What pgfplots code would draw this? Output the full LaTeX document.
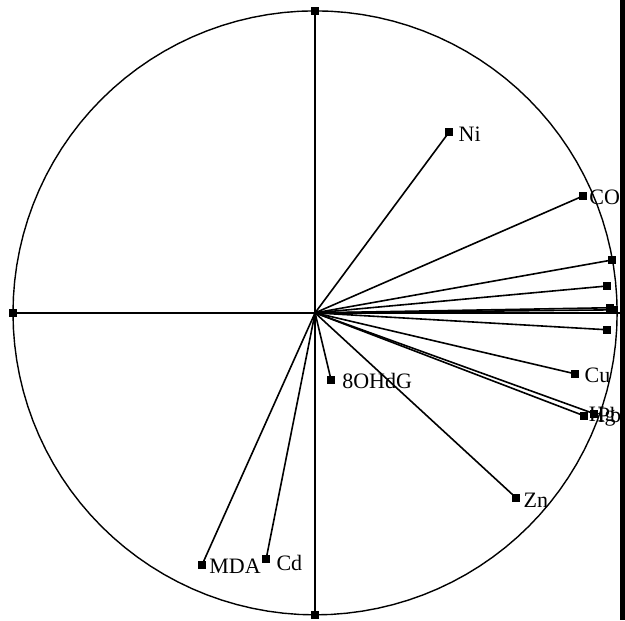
\documentclass[border=0pt]{standalone}
\usepackage{fontspec}
\setmainfont{Liberation Serif}
\usepackage{pgfplots}
\pgfplotsset{compat=1.18}
\begin{document}
\begin{tikzpicture}
\begin{axis}[
  width=312.5pt, height=310pt, scale only axis,
  xmin=-1.043, xmax=1.026, ymin=-1.017, ymax=1.036,
  axis lines=none, clip=false,
  every axis plot/.append style={black, line width=0.8pt},
]
\path (axis cs:-1.043,-1.017) rectangle (axis cs:1.026,1.036);
\addplot[line width=0.7pt, domain=0:360, samples=121, no marks] ({cos(x)},{sin(x)});
\addplot[no marks] coordinates {(-1,0) (1.02,0)};
\addplot[no marks] coordinates {(0,-1) (0,1)};
\addplot[only marks, mark=square*, mark size=1.6pt] coordinates {(-1,0) (0,1) (0,-1)};
\addplot[no marks] coordinates {(0,0) (0.444,0.599)};
\addplot[no marks] coordinates {(0,0) (0.887,0.387)};
\addplot[no marks] coordinates {(0,0) (0.983,0.175)};
\addplot[no marks] coordinates {(0,0) (0.967,0.089)};
\addplot[no marks] coordinates {(0,0) (0.977,0.017)};
\addplot[no marks] coordinates {(0,0) (0.990,0.010)};
\addplot[no marks] coordinates {(0,0) (0.967,-0.056)};
\addplot[no marks] coordinates {(0,0) (0.861,-0.202)};
\addplot[no marks] coordinates {(0,0) (0.891,-0.341)};
\addplot[no marks] coordinates {(0,0) (0.924,-0.334)};
\addplot[no marks] coordinates {(0,0) (0.666,-0.613)};
\addplot[no marks] coordinates {(0,0) (0.053,-0.222)};
\addplot[no marks] coordinates {(0,0) (-0.374,-0.834)};
\addplot[no marks] coordinates {(0,0) (-0.162,-0.815)};
\addplot[only marks, mark=square*, mark size=1.6pt] coordinates {
 (0.444,0.599) (0.887,0.387) (0.983,0.175) (0.967,0.089) (0.977,0.017) (0.990,0.010)
 (0.967,-0.056) (0.861,-0.202) (0.891,-0.341) (0.924,-0.334) (0.666,-0.613)
 (0.053,-0.222) (-0.374,-0.834) (-0.162,-0.815)};
\node[anchor=west, inner sep=0pt, font=\fontsize{11}{13}\selectfont] at (axis cs:0.474,0.593) {Ni};
\node[anchor=west, inner sep=0pt, font=\fontsize{11}{13}\selectfont] at (axis cs:0.907,0.384) {CO};
\node[anchor=west, inner sep=0pt, font=\fontsize{11}{13}\selectfont] at (axis cs:0.891,-0.208) {Cu};
\node[anchor=west, inner sep=0pt, font=\fontsize{11}{13}\selectfont] at (axis cs:0.689,-0.619) {Zn};
\node[anchor=west, inner sep=0pt, font=\fontsize{11}{13}\selectfont] at (axis cs:0.089,-0.225) {8OHdG};
\node[anchor=west, inner sep=0pt, font=\fontsize{11}{13}\selectfont] at (axis cs:-0.351,-0.840) {MDA};
\node[anchor=west, inner sep=0pt, font=\fontsize{11}{13}\selectfont] at (axis cs:-0.129,-0.828) {Cd};
\node[anchor=west, inner sep=0pt, font=\fontsize{11}{13}\selectfont] at (axis cs:0.905,-0.345) {Hg};
\node[anchor=west, inner sep=0pt, font=\fontsize{11}{13}\selectfont] at (axis cs:0.935,-0.338) {Pb};
\fill[black] (axis cs:1.010,-1.017) rectangle (axis cs:1.026,1.036);
\end{axis}
\end{tikzpicture}
\end{document}
